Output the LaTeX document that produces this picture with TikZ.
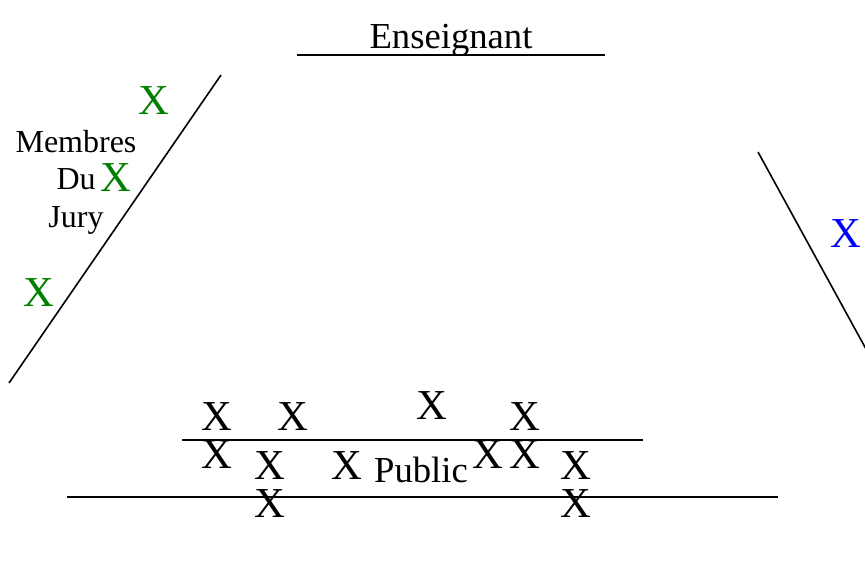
\documentclass[tikz,border=0pt]{standalone}
\usepackage{fontspec}
\setmainfont{Liberation Serif}
\definecolor{jurygreen}{RGB}{0,128,0}
\tikzset{
    croix/.style={inner sep=0pt, font=\fontsize{32}{36}\selectfont},
    titre/.style={inner sep=0pt, anchor=base, font=\fontsize{27.5}{32}\selectfont},
    petit/.style={inner sep=0pt, anchor=base, font=\fontsize{24}{28}\selectfont},
    ligne/.style={line width=1.2pt}
}
\begin{document}
\begin{tikzpicture}[x=0.75pt, y=-0.75pt]
    \useasboundingbox (0,0) rectangle (865,572);
    % enseignant
    \node[titre] (ens) at (451,48) {Enseignant};
    \draw[ligne] (297,55) -- (605,55);
    % jury
    \draw[ligne] (221,75) -- (9,383);
    \node[croix, jurygreen] (j1) at (154,101) {X};
    \node[croix, jurygreen] (j2) at (116,178) {X};
    \node[croix, jurygreen] (j3) at (39,293) {X};
    \node[petit] (membres) at (76,152) {Membres};
    \node[petit, anchor=base east] (du) at (96,189) {Du};
    \node[petit] (jury) at (76,227) {Jury};
    % cote droit
    \draw[ligne] (758,152) -- (866,349);
    \node[croix, blue] (d1) at (846,234) {X};
    % public
    \draw[ligne] (182,440) -- (643,440);
    \draw[ligne] (67,497) -- (778,497);
    \node[titre] (public) at (421,482) {Public};
    \node[croix] (p1) at (217,417) {X};
    \node[croix] (p2) at (293,417) {X};
    \node[croix] (p3) at (432,406) {X};
    \node[croix] (p4) at (525,417) {X};
    \node[croix] (p5) at (217,455) {X};
    \node[croix] (p6) at (270,466) {X};
    \node[croix] (p7) at (347,466) {X};
    \node[croix] (p8) at (488,455) {X};
    \node[croix] (p9) at (525,455) {X};
    \node[croix] (p10) at (576,466) {X};
    \node[croix] (p11) at (270,504) {X};
    \node[croix] (p12) at (576,504) {X};
\end{tikzpicture}
\end{document}
